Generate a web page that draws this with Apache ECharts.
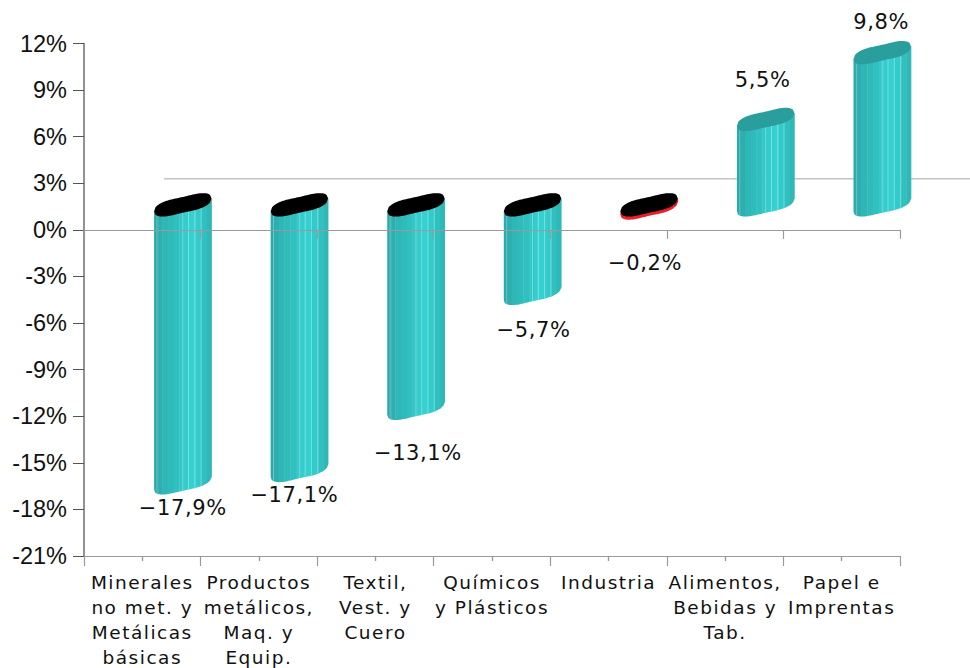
<!DOCTYPE html>
<html>
<head>
<meta charset="utf-8">
<style>
html,body{margin:0;padding:0;background:#fff}
#c{width:970px;height:668px}
#c text[style*="18.5px"]{letter-spacing:1.5px}
#c text[style*="21px"]{letter-spacing:.6px}
</style>
<script src="https://cdn.jsdelivr.net/npm/echarts@6/dist/echarts.min.js"></script>
</head>
<body>
<div id="c"></div>
<script>
const categories = [
  'Minerales\nno met. y\nMetálicas\nbásicas',
  'Productos\nmetálicos,\nMaq. y\nEquip.',
  'Textil,\nVest. y\nCuero',
  'Químicos\ny Plásticos',
  'Industria',
  'Alimentos,\nBebidas y\nTab.',
  'Papel e\nImprentas'
];
const values = [-17.9, -17.1, -13.1, -5.7, -0.2, 5.5, 9.8];
const yTicks = { min: -21, max: 12, interval: 3 };
const totalIndex = 4;

// 3D look of the original
const depthX = 40.5, depthY = -25, halfW = 28.7, slant = 6.5, minor = 9.6;
const labelOffsets = [[0, 16], [-5, 15], [2, 35], [1, 27], [-4, 45], [-3, -23], [-1, -15]];
const shades = [
  [0, '#2aaaaa'], [.07, '#2dafaf'], [.14, '#2fb6b6'], [.24, '#30bbbb'], [.34, '#31c0c0'],
  [.44, '#33c7c7'], [.52, '#34cdcd'], [.60, '#35d0d0'], [.72, '#33caca'], [.83, '#31c0c0'], [.92, '#2fb8b8'], [1, '#2fb8b8']
];
const lightLines = [.05, .5, .6, .71, .82];

function edge(f, dir) { // y offset of the ellipse outline at fraction f of width; dir -1 upper, +1 lower, 0 centre
  const c = 2 * f - 1, s = Math.sqrt(Math.max(0, 1 - c * c));
  return -slant * c + dir * minor * Math.pow(s, .8) * (1 - 0.18 * Math.pow(s, 6));
}
function capPoints(cx, cy) {
  const pts = [];
  for (let i = 0; i <= 40; i++) { const f = i / 40; pts.push([cx - halfW + 2 * halfW * f, cy + edge(f, -1)]); }
  for (let i = 40; i >= 0; i--) { const f = i / 40; pts.push([cx - halfW + 2 * halfW * f, cy + edge(f, 1)]); }
  return pts;
}

function renderBar(params, api) {
  const i = api.value(0), v = api.value(1);
  const p0 = api.coord([i, 0]), pv = api.coord([i, v]);
  const cx = p0[0] + depthX;
  const topY = Math.min(p0[1], pv[1]) + depthY, botY = Math.max(p0[1], pv[1]) + depthY;
  const x0 = cx - halfW, w = 2 * halfW;
  const children = [];
  for (let k = 0; k < shades.length - 1; k++) {
    const pts = [];
    const a = shades[k][0], b = shades[k + 1][0];
    pts.push([x0 + a * w, topY + edge(a, 0)], [x0 + b * w + .4, topY + edge(b, 0)]);
    for (let n = 4; n >= 0; n--) {
      const f = a + (b - a) * n / 4;
      pts.push([x0 + f * w + (n === 4 ? .4 : 0), botY + edge(f, 1)]);
    }
    children.push({ type: 'polygon', shape: { points: pts },
      style: { fill: i === totalIndex ? '#ee1c25' : shades[k][1] } });
  }
  if (i !== totalIndex) {
    lightLines.forEach(f => {
      const x = x0 + f * w;
      children.push({ type: 'line', shape: { x1: x, y1: topY + edge(f, 0), x2: x, y2: botY + edge(f, 1) },
        style: { stroke: 'rgba(255,255,255,.32)', lineWidth: 1 } });
    });
  }
  children.push({ type: 'polygon', shape: { points: capPoints(cx, topY) },
    style: { fill: v > 0 ? '#2a9d9d' : '#000' } });
  const off = labelOffsets[i];
  const txt = v.toFixed(1).replace('.', ',').replace('-', '\u2212') + '%';
  const labelAnchorY = (v > 0 ? topY - minor - slant : botY + minor);
  children.push({ type: 'text', style: {
    text: txt, x: cx + off[0], y: labelAnchorY + off[1],
    align: 'center', verticalAlign: 'middle', fill: '#111',
    font: '21px "DejaVu Sans"' } });
  return { type: 'group', children };
}

function renderBackEdge(params, api) {
  const p = api.coord([0, 0]), band = api.size([1, 0])[0];
  const last = api.coord([categories.length - 1, 0]);
  const y = p[1] - 51;
  return { type: 'line', shape: { x1: p[0] - band / 2 + 80, y1: y, x2: last[0] + band / 2 + 70, y2: y },
    style: { stroke: '#a6a6a6', lineWidth: 1 }, silent: true };
}

const tickLine = { color: '#9a9a9a', width: 1.2 };
const baseX = { type: 'category', data: categories };
const chart = echarts.init(document.getElementById('c'), null, { renderer: 'svg' });
chart.setOption({
  animation: false,
  backgroundColor: '#fff',
  grid: { left: 84, right: 70, top: 43.5, bottom: 112, outerBoundsMode: 'none' },
  xAxis: [
    Object.assign({}, baseX, { position: 'bottom', axisLine: { onZero: false, lineStyle: tickLine },
      axisTick: { show: true, length: 10, lineStyle: tickLine },
      axisLabel: { interval: 0, margin: 14, lineHeight: 25, color: '#111', fontSize: 18.5, fontFamily: 'DejaVu Sans', verticalAlign: 'top', hideOverlap: false } }),
    Object.assign({}, baseX, { position: 'bottom', axisLine: { show: false, onZero: false },
      axisTick: { show: true, length: 5, alignWithLabel: true, lineStyle: tickLine }, axisLabel: { show: false } }),
    Object.assign({}, baseX, { position: 'bottom', z: 6, axisLine: { onZero: true, lineStyle: tickLine },
      axisTick: { show: true, length: 9, lineStyle: tickLine }, axisLabel: { show: false } }),
    Object.assign({}, baseX, { position: 'bottom', z: 6, axisLine: { show: false, onZero: true },
      axisTick: { show: true, length: 5, alignWithLabel: true, lineStyle: tickLine }, axisLabel: { show: false } })
  ],
  yAxis: {
    type: 'value', min: yTicks.min, max: yTicks.max, interval: yTicks.interval,
    splitLine: { show: false },
    axisLine: { show: true, onZero: false, lineStyle: { color: '#6e6e6e', width: 1.5 } },
    axisTick: { show: true, length: 11, lineStyle: { color: '#555', width: 1 } },
    axisLabel: { formatter: '{value}%', margin: 17, color: '#111', fontSize: 23.5, fontFamily: 'Liberation Sans' }
  },
  series: [
    { type: 'custom', xAxisIndex: 0, renderItem: renderBackEdge, data: [[0, 0]], clip: false, z: 1 },
    { type: 'custom', xAxisIndex: 0, renderItem: renderBar, clip: false, z: 3,
      data: values.map((v, i) => [i, v]), encode: { x: 0, y: 1 } }
  ]
});
</script>
</body>
</html>
